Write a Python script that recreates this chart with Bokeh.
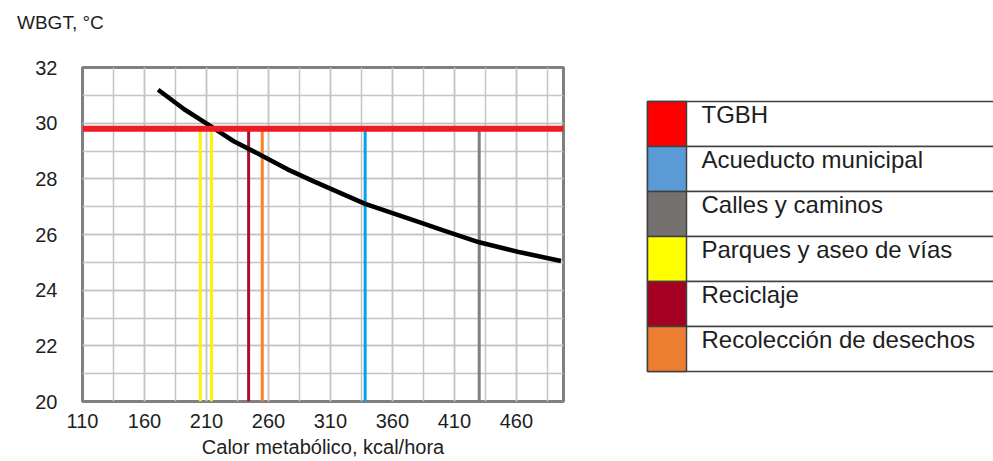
from bokeh.plotting import figure
from bokeh.layouts import row, column
from bokeh.models import Range1d, FixedTicker, ColumnDataSource, Span, Div
from bokeh.embed import file_html
from bokeh.resources import INLINE
from bokeh.core.properties import value

# ---- data ----
curve_x = [171, 192, 213, 232, 254, 275, 297, 338, 381, 401, 430, 463, 496]
curve_y = [31.2, 30.5, 29.9, 29.35, 28.85, 28.35, 27.9, 27.1, 26.45, 26.15, 25.72, 25.36, 25.05]
tgbh_limit = 29.8
activity_names = ["Parques y aseo de vías", "Parques y aseo de vías", "Reciclaje",
                  "Recolección de desechos", "Acueducto municipal", "Calles y caminos"]
activity_x = [205, 214, 244, 255, 338, 430]
activity_colors = ["#FFF200", "#FFF200", "#A8102C", "#FF7F27", "#00A2E8", "#808080"]
legend_labels = ["TGBH", "Acueducto municipal", "Calles y caminos",
                 "Parques y aseo de vías", "Reciclaje", "Recolección de desechos"]
legend_colors = ["#FF0000", "#5B9BD5", "#767171", "#FFFF00", "#A50021", "#ED7D31"]
x_ticks = [110, 160, 210, 260, 310, 360, 410, 460]
x_minor = [110, 135, 160, 185, 210, 235, 260, 285, 310, 335, 360, 385, 410, 435, 460, 485]
y_ticks = [20, 22, 24, 26, 28, 30, 32]
y_minor = list(range(20, 33))
y_title = "WBGT, °C"
x_title = "Calor metabólico, kcal/hora"

FONT = "Liberation Sans"
TXT = "#1E1E1E"
HEAD_OFFSET = 33          # where the chart row starts on the page
H = 427
TOP, BOT = 34, 59
FRAME_TOP_PAGE, FRAME_BOT_PAGE = HEAD_OFFSET + TOP, HEAD_OFFSET + H - BOT

# ---- header with the y-axis title ----
head = Div(text=y_title, width=400, height=23,
           styles={"font-family": FONT, "font-size": "19px", "color": TXT,
                   "padding-left": "12px", "padding-top": "7px", "line-height": "22px"})

# ---- main chart ----
p = figure(width=608, height=H, x_range=Range1d(110, 498), y_range=Range1d(20, 32),
           title=None, output_backend="svg", toolbar_location=None,
           min_border_left=82, min_border_right=45, min_border_top=TOP, min_border_bottom=BOT)
p.background_fill_color = "white"
p.border_fill_color = "white"
p.outline_line_color = "#808080"
p.outline_line_width = 3

p.xaxis.ticker = FixedTicker(ticks=x_ticks, minor_ticks=x_minor)
p.yaxis.ticker = FixedTicker(ticks=y_ticks, minor_ticks=y_minor)
for ax in (p.xaxis, p.yaxis):
    ax.axis_line_color = None
    ax.major_tick_line_color = None
    ax.minor_tick_line_color = None
    ax.major_tick_out = 0
    ax.major_label_text_font = FONT
    ax.major_label_text_font_size = "20px"
    ax.major_label_text_color = TXT
p.yaxis.major_label_standoff = 21
p.xaxis.major_label_standoff = 8
p.xaxis.axis_label = x_title
p.xaxis.axis_label_text_font = FONT
p.xaxis.axis_label_text_font_size = "20px"
p.xaxis.axis_label_text_font_style = "normal"
p.xaxis.axis_label_text_color = TXT
p.xaxis.axis_label_standoff = 5

for g in (p.xgrid, p.ygrid):
    g.grid_line_color = "#C4C4C4"
    g.grid_line_width = 1.5
    g.minor_grid_line_color = "#C4C4C4"
    g.minor_grid_line_width = 1.5

src = ColumnDataSource(dict(x=activity_x, y0=[20] * len(activity_x),
                            y1=[tgbh_limit] * len(activity_x),
                            color=activity_colors, name=activity_names))
p.segment(x0="x", y0="y0", x1="x", y1="y1", color="color", line_width=3, source=src)
p.line(curve_x, curve_y, line_color="black", line_width=4.5)
p.add_layout(Span(location=tgbh_limit, dimension="width", line_color="#ED1C24", line_width=6))

# ---- legend panel (its frame is aligned with the chart frame; ranges in page pixels) ----
LW = 385
lf = figure(width=LW, height=H, x_range=Range1d(608, 608 + LW),
            y_range=Range1d(FRAME_BOT_PAGE, FRAME_TOP_PAGE),
            title=None, x_axis_type=None, y_axis_type=None, output_backend="svg",
            toolbar_location=None, min_border_left=0, min_border_right=0,
            min_border_top=TOP, min_border_bottom=BOT)
lf.outline_line_color = None
lf.grid.visible = False
row_h = 45
top0 = 101
tops = [top0 + row_h * i for i in range(len(legend_labels))]
bots = [t + row_h for t in tops]
lsrc = ColumnDataSource(dict(top=tops, bottom=bots, color=legend_colors, label=legend_labels,
                             ty=[t - 1 for t in tops]))
lf.quad(left=647, right=1000, top="top", bottom="bottom", fill_color="white",
        line_color="#404040", line_width=1.5, source=lsrc)
lf.quad(left=647, right=686, top="top", bottom="bottom", fill_color="color",
        line_color="#404040", line_width=1.5, source=lsrc)
lf.text(x=701, y="ty", text="label", text_baseline="top", text_font=value(FONT),
        text_font_size="24px", text_color=TXT, source=lsrc)

layout = column(head, row(p, lf))
open("out.html", "w").write(file_html(layout, INLINE))
